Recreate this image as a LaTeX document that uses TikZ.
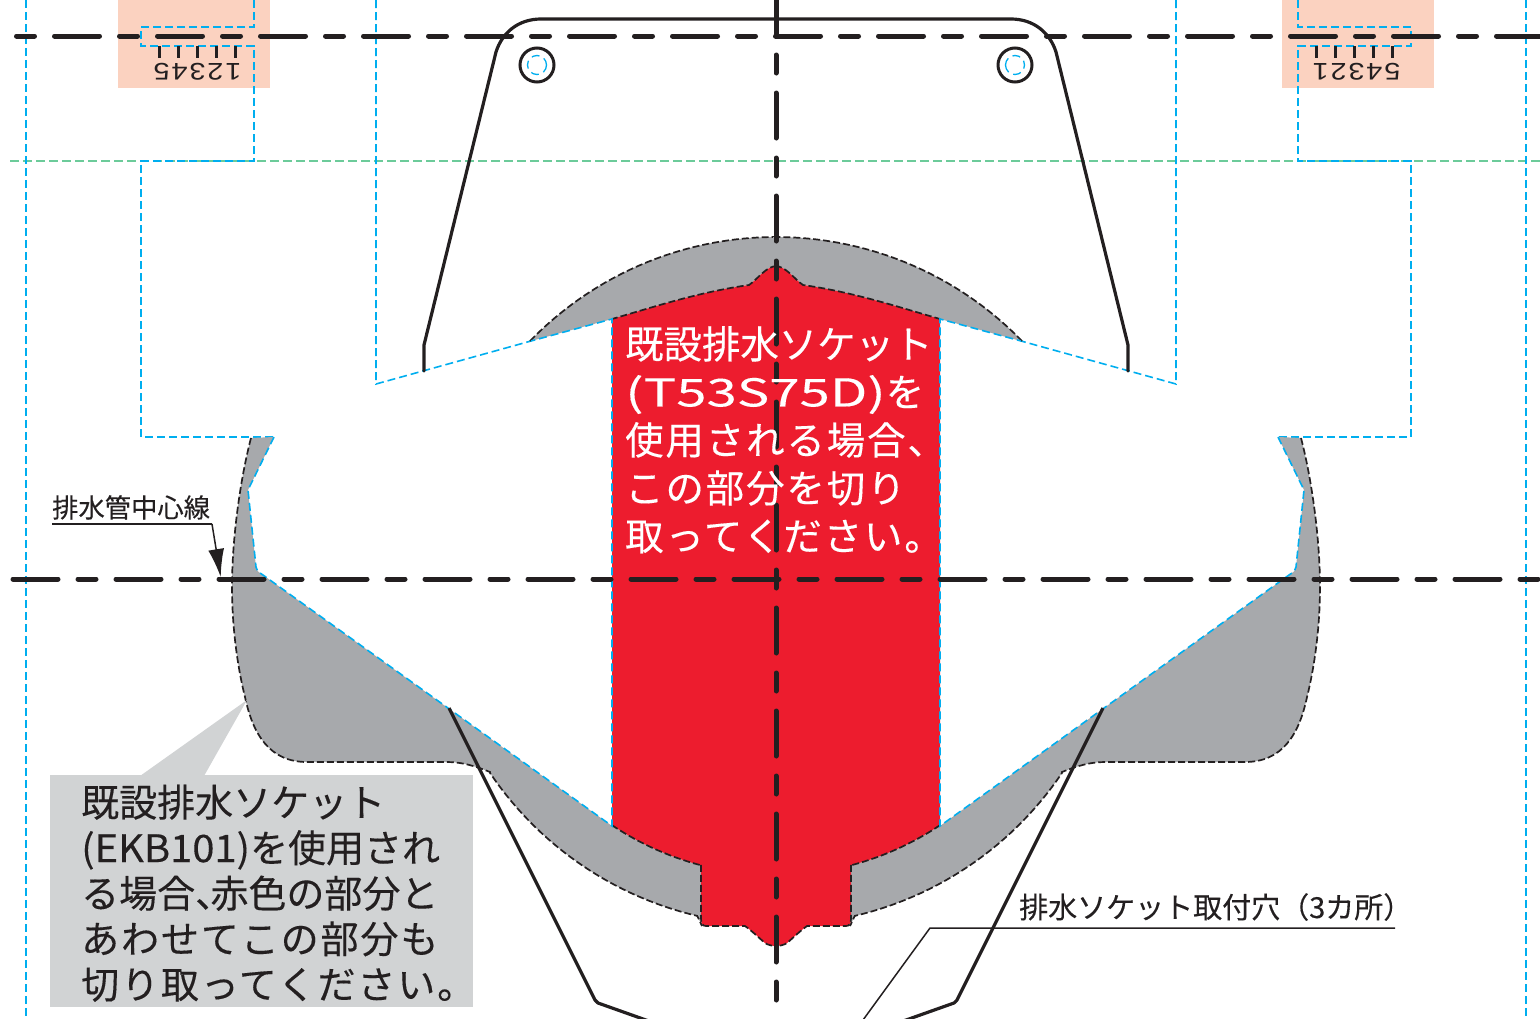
\documentclass[tikz,border=0pt]{standalone}
\usepackage{fontspec}
\usetikzlibrary{arrows.meta}
\newfontfamily\jpfont[FakeBold=.25]{Noto Sans CJK JP}
\newfontfamily\jptrack[FakeBold=.25,LetterSpace=5]{Noto Sans CJK JP}
\newfontfamily\jpwide[FakeBold=.25,FakeStretch=1.42]{Noto Sans CJK JP}
\newfontfamily\jpnorm[FakeBold=.25,FakeStretch=1.05]{Noto Sans CJK JP}
\newfontfamily\digitfont[FakeStretch=1.2,LetterSpace=8]{Liberation Sans}
\definecolor{inkblack}{HTML}{231F20}
\definecolor{cutcyan}{HTML}{00AEEF}
\definecolor{foldgreen}{HTML}{6CCB9A}
\definecolor{peach}{HTML}{FBD2C0}
\definecolor{cutred}{HTML}{ED1C2E}
\definecolor{cutgrey}{HTML}{A7A9AC}
\definecolor{notegrey}{HTML}{D1D3D4}
\newcommand{\outeredge}{(251,438) .. controls (240,480) and (232,540) .. (232,587)
	.. controls (232,625) and (237,665) .. (245,697)
	.. controls (253,735) and (270,762) .. (307,762)
	-- (447,762) .. controls (462,762) and (475,766) .. (490,772)
	-- plot[domain=146:103.2,samples=30] ({776+345*cos(\x)},{580+345*sin(\x)}) -- (702,926)}
\newcommand{\inneredge}{(701,918) -- (701,864)
	-- plot[domain=104.8:123.7,samples=16] ({776+295*cos(\x)},{580+295*sin(\x)})}
\newcommand{\crowntop}{(777,266) .. controls (766,266) and (758,279) .. (749,285)
	.. controls (700,292) and (660,305) .. (612,319)}
\newcommand{\chinbottom}{(701,864) -- (701,918) .. controls (701,923) and (702,926) .. (706,926)
	-- (745,926) .. controls (752,931) and (758,937) .. (765,943) .. controls (768,945) and (772,946) .. (777,946)}

\begin{document}
\begin{tikzpicture}[x=1pt,y=-1pt,
		centerline/.style={inkblack,line width=5pt,line cap=round},
		cutline/.style={cutcyan,line width=1.6pt,dash pattern=on 8pt off 4pt},
		foldline/.style={foldgreen,line width=1.6pt,dash pattern=on 9pt off 4pt},
		edgeline/.style={inkblack,line width=1.7pt,dash pattern=on 7pt off 3pt},
		outline/.style={inkblack,line width=3.2pt,line join=round},
		leader/.style={inkblack,line width=1.5pt},
		note/.style={anchor=north west,inner sep=0pt,align=left}]
	\path[use as bounding box,clip] (0,0) rectangle (1540,1018);

	\fill[peach] (118,0) rectangle (270,88);
	\fill[peach] (1282,0) rectangle (1434,88);
	\draw[foldline] (10,160.7) -- (1540,160.7);

	% left half, then the same again mirrored about the centre line
	\foreach \flip/\shiftx in {1/0,-1/1552} {
		\begin{scope}[xshift=\shiftx pt,xscale=\flip]
			\draw[cutline] (26,0) -- (26,1018);
			\draw[cutline] (254,0) -- (254,27) -- (141,27) -- (141,45.7) -- (254,45.7) -- (254,160.7) -- (141,160.7) -- (141,437) -- (274,437);
			\draw[cutline] (376,0) -- (376,384) -- (531,341);

			\fill[cutgrey] \outeredge -- \inneredge -- (612,826) -- (263,575) .. controls (258,572) and (256,570) .. (256,567) -- (248,490) -- (274,437) -- cycle;
			\fill[cutgrey] (531,341) -- plot[domain=224.3:270.5,samples=30] ({776+343*cos(\x)},{580+343*sin(\x)}) -- \crowntop -- cycle;
			\fill[cutred] \crowntop -- (612,826) -- plot[domain=123.7:104.8,samples=16] ({776+295*cos(\x)},{580+295*sin(\x)}) -- \chinbottom -- cycle;

			\draw[edgeline] \outeredge;
			\draw[edgeline] (531,341) -- plot[domain=224.3:270,samples=30] ({776+343*cos(\x)},{580+343*sin(\x)});
			\draw[edgeline] \crowntop;
			\draw[edgeline] (612,826) -- plot[domain=123.7:104.8,samples=16] ({776+295*cos(\x)},{580+295*sin(\x)}) -- \chinbottom;
			\draw[cutline] (274,437) -- (248,490) -- (256,567) .. controls (256,570) and (258,572) .. (263,575) -- (612,826) -- (612,319) -- (531,341);

			\draw[outline,line cap=round] (424,371) -- (424,345) -- (496,52) .. controls (502,33) and (518,19) .. (541,19) -- (777,19);
			\draw[outline] (449,708) -- (595,1000) .. controls (596,1002) and (597,1002) .. (598,1003) -- (660,1025);
			\draw[inkblack,line width=3pt] (537,65) circle[radius=17];
			\draw[cutcyan,line width=1.3pt,dash pattern=on 8pt off 5pt] (537,65) circle[radius=9.5];
		\end{scope}
	}

	% the ticks over the two rows of digits
	\foreach \tickx in {159,178,197,216,235,1316,1335,1354,1373,1392}
		\draw[inkblack,line width=3pt] (\tickx,46) -- (\tickx,58);
	\node[rotate=180,inner sep=0pt,font=\fontsize{24}{24}\digitfont,inkblack] (leftdigits) at (197.5,72) {12345};
	\node[rotate=180,inner sep=0pt,font=\fontsize{24}{24}\digitfont,inkblack] (rightdigits) at (1356.5,72) {54321};

	\draw[centerline,dash pattern=on 18pt off 20pt on 45pt off 20pt] (16.5,36) -- (1540,36);
	\draw[centerline,dash pattern=on 45pt off 20pt on 18pt off 20pt] (13,579) -- (1540,579);
	\draw[centerline,dash pattern=on 45pt off 20pt on 18pt off 20pt] (776,-10) -- (776,1018);

	\fill[notegrey] (247,700) -- (140,776) -- (204,776) -- cycle;
	\fill[notegrey] (50,775) rectangle (473,1007);

	\node[note,white,font=\fontsize{38.4}{48}\jpfont] (redlabel) at (625,326) {既設排水ソケット\\{\jpwide (T53S75D)}を\\{\jptrack 使用される場合、}\\{\jptrack この部分を切り}\\{\jptrack 取ってください。}};
	\node[note,inkblack,font=\fontsize{38}{45.5}\jpfont] (greylabel) at (81,784.5) {既設排水ソケット\\{\jpnorm (EKB101)}を使用され\\る場合、\kern-.6em 赤色の部分と\\{\jptrack あわせてこの部分も}\\{\jptrack 切り取ってください。}};

	\node[note,inkblack,font=\fontsize{26.3}{30}\jpfont] (axislabel) at (52,495) {排水管中心線};
	\coordinate (axisfoot) at (52,524);
	\coordinate (axisbend) at (212,524);
	\coordinate (axistip) at (220.7,577);
	\draw[leader] (axisfoot) -- (axisbend);
	\draw[leader,-{Latex[length=28pt,width=16pt]}] (axisbend) -- (axistip);

	\node[note,inkblack,font=\fontsize{29}{34}\jpfont] (holelabel) at (1019,893) {排水ソケット取付穴（3カ所）};
	\coordinate (holeend) at (1395,928);
	\coordinate (holebend) at (930,928);
	\coordinate (holefoot) at (863,1020);
	\draw[leader] (holeend) -- (holebend) -- (holefoot);
\end{tikzpicture}
\end{document}
